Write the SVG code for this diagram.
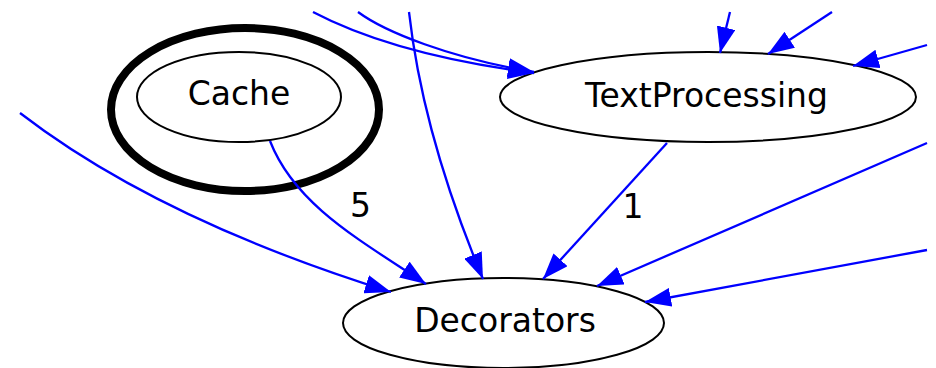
<svg xmlns="http://www.w3.org/2000/svg" width="936" height="368" viewBox="0 0 936 368">
  <style>
    .node { fill: #ffffff; stroke: #000000; stroke-width: 2; }
    .ring { fill: none; stroke: #000000; stroke-width: 8; }
    .label { font-family: "DejaVu Sans", "Liberation Sans", sans-serif; font-size: 33px; fill: #000000; text-anchor: middle; }
    .edge { fill: none; stroke: #0000ff; stroke-width: 2.3; marker-end: url(#arrow); }
  </style>
  <defs>
    <marker id="arrow" viewBox="0 0 26 19" refX="26" refY="9.5" markerWidth="26" markerHeight="19" markerUnits="userSpaceOnUse" orient="auto">
      <path d="M0,0 L26,9.5 L0,19 Z" fill="#0000ff"/>
    </marker>
  </defs>

  <rect width="936" height="368" fill="#ffffff"/>

  <g id="node-cache">
    <ellipse class="ring" cx="245" cy="109.5" rx="134" ry="81.5"/>
    <ellipse class="node" cx="239" cy="97" rx="102" ry="45"/>
    <text class="label" x="239" y="105">Cache</text>
  </g>

  <g id="node-textprocessing">
    <ellipse class="node" cx="708" cy="97" rx="208" ry="45"/>
    <text class="label" x="706.5" y="106.5">TextProcessing</text>
  </g>

  <g id="node-decorators">
    <ellipse class="node" cx="503.5" cy="323" rx="160.5" ry="45"/>
    <text class="label" x="505" y="332">Decorators</text>
  </g>

  <g id="connectors">
    <path class="edge" d="M20,113 C120,190 250,248 391,292"/>
    <path class="edge" d="M270,141 C295,205 360,240 426,284"/>
    <text class="label" x="360.5" y="217">5</text>
    <path class="edge" d="M409,12 C420,110 450,200 483,279"/>
    <path class="edge" d="M667,143 L543,279"/>
    <text class="label" x="633" y="218">1</text>
    <path class="edge" d="M927,143 L597,286"/>
    <path class="edge" d="M927,250 L645,302"/>
    <path class="edge" d="M730,12 L720,53"/>
    <path class="edge" d="M832,12 L768,54"/>
    <path class="edge" d="M927,45 L853,66"/>
    <path class="edge" d="M313,12 C370,42 450,62 534,73"/>
    <path class="edge" d="M358,12 C385,32 450,58 534,72"/>
  </g>
</svg>
